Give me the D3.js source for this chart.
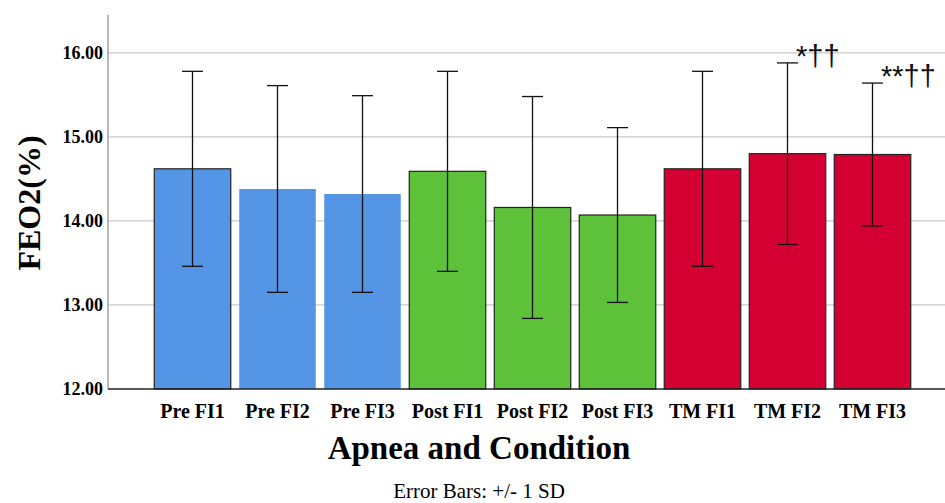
<!DOCTYPE html>
<html>
<head>
<meta charset="utf-8">
<script src="https://cdn.jsdelivr.net/npm/d3@7"></script>
<style>
  body { margin: 0; background: #fff; }
  svg { display: block; }
  .serif { font-family: 'Liberation Serif', 'Times New Roman', serif; }
</style>
</head>
<body>
<div id="chart"></div>
<script>
// data
const categories = ["Pre FI1", "Pre FI2", "Pre FI3", "Post FI1", "Post FI2", "Post FI3", "TM FI1", "TM FI2", "TM FI3"];
const groups = ["Pre", "Pre", "Pre", "Post", "Post", "Post", "TM", "TM", "TM"];
const means = [14.62, 14.38, 14.32, 14.59, 14.16, 14.07, 14.62, 14.80, 14.79];
const sds = [1.16, 1.23, 1.17, 1.19, 1.32, 1.04, 1.16, 1.08, 0.85];
const bordered = [true, false, false, true, true, true, true, true, true];
const marks = ["", "", "", "", "", "", "", "*††", "**††"];
const yTicks = [12, 13, 14, 15, 16];

const colors = { Pre: "#5595e5", Post: "#5dc13a", TM: "#d50032" };

const width = 945, height = 503;
const svg = d3.select("#chart").append("svg")
  .attr("width", width)
  .attr("height", height);

//////////////////////////// scales ////////////////////////////
const y = d3.scaleLinear()
  .domain([12, 16.45])
  .range([389, 15]);

const x = d3.scaleBand()
  .domain(categories)
  .range([150, 915])
  .paddingInner(0.1)
  .paddingOuter(0.05);

const axisLeft = 108, plotRight = 945;

// grid lines
svg.append("g")
  .selectAll("line")
  .data(yTicks.slice(1))
  .enter()
  .append("line")
  .attr("x1", axisLeft)
  .attr("x2", plotRight)
  .attr("y1", d => y(d))
  .attr("y2", d => y(d))
  .attr("stroke", "#c8c8c8")
  .attr("stroke-width", 1.2);

// y axis
const yAxis = svg.append("g")
  .attr("transform", `translate(${axisLeft},0)`)
  .call(d3.axisLeft(y).tickValues(yTicks).tickFormat(d3.format(".2f")).tickSize(0).tickPadding(5));
yAxis.select(".domain").remove();
yAxis.append("line")
  .attr("y1", y.range()[1])
  .attr("y2", y.range()[0])
  .attr("stroke", "#a0a0a0")
  .attr("stroke-width", 1.5);
yAxis.selectAll("text")
  .style("font-family", "'Liberation Serif', 'Times New Roman', serif")
  .style("font-weight", "bold")
  .style("font-size", "18px")
  .attr("fill", "#000");

//////////////////////////// bars ////////////////////////////
svg.selectAll(".bar")
  .data(categories)
  .enter()
  .append("rect")
  .attr("class", "bar")
  .attr("x", d => x(d))
  .attr("y", (d, i) => y(means[i]))
  .attr("width", x.bandwidth())
  .attr("height", (d, i) => y(12) - y(means[i]))
  .attr("fill", (d, i) => colors[groups[i]])
  .attr("stroke", (d, i) => bordered[i] ? "#222" : "none")
  .attr("stroke-width", 1.2);

// x axis baseline
const xAxis = svg.append("g")
  .attr("transform", `translate(0,${y(12)})`)
  .call(d3.axisBottom(x).tickSize(0).tickPadding(15));
xAxis.select(".domain").remove();
xAxis.append("line")
  .attr("x1", axisLeft)
  .attr("x2", plotRight)
  .attr("stroke", "#222")
  .attr("stroke-width", 1.3);
xAxis.selectAll("text")
  .style("font-family", "'Liberation Serif', 'Times New Roman', serif")
  .style("font-weight", "bold")
  .style("font-size", "20px")
  .attr("fill", "#000");

//////////////////////////// error bars ////////////////////////////
const capHalf = 10.5;
const eb = svg.append("g").attr("stroke", "#111").attr("stroke-width", 1.3);
categories.forEach((c, i) => {
  const cx = x(c) + x.bandwidth() / 2;
  const hi = y(means[i] + sds[i]);
  const lo = y(means[i] - sds[i]);
  eb.append("line").attr("x1", cx).attr("x2", cx).attr("y1", hi).attr("y2", lo);
  eb.append("line").attr("x1", cx - capHalf).attr("x2", cx + capHalf).attr("y1", hi).attr("y2", hi);
  eb.append("line").attr("x1", cx - capHalf).attr("x2", cx + capHalf).attr("y1", lo).attr("y2", lo);
  if (marks[i]) {
    svg.append("text")
      .attr("x", cx + capHalf - 2)
      .attr("y", hi + 3)
      .style("font-family", "'Liberation Sans', Arial, sans-serif")
      .style("font-size", "29px")
      .attr("fill", "#111")
      .text(marks[i]);
  }
});

//////////////////////////// titles ////////////////////////////
svg.append("text")
  .attr("class", "serif")
  .attr("transform", `translate(40,203) rotate(-90)`)
  .attr("text-anchor", "middle")
  .style("font-weight", "bold")
  .style("font-size", "32px")
  .text("FEO2(%)");

svg.append("text")
  .attr("class", "serif")
  .attr("x", 479)
  .attr("y", 459)
  .attr("text-anchor", "middle")
  .style("font-weight", "bold")
  .style("font-size", "33px")
  .text("Apnea and Condition");

svg.append("text")
  .attr("class", "serif")
  .attr("x", 479)
  .attr("y", 498)
  .attr("text-anchor", "middle")
  .style("font-size", "21px")
  .text("Error Bars: +/- 1 SD");
</script>
</body>
</html>
